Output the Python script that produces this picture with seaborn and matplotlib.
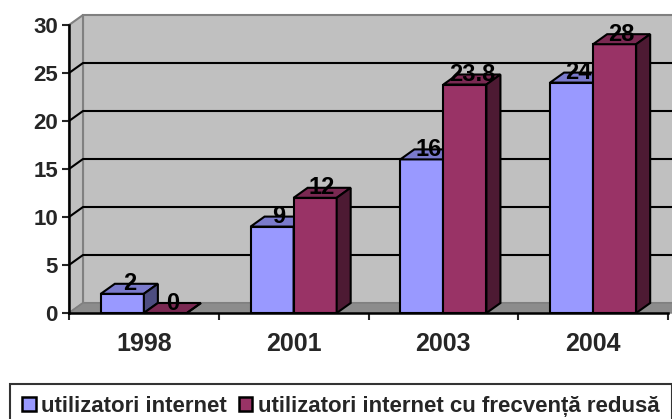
import matplotlib
matplotlib.use("Agg")
import matplotlib.pyplot as plt
from matplotlib.patches import Polygon, Patch
from matplotlib.transforms import IdentityTransform
import seaborn as sns
import pandas as pd

years = ["1998", "2001", "2003", "2004"]
series_names = ["utilizatori internet", "utilizatori internet cu frecvență redusă"]
users = [2, 9, 16, 24]
users_low = [0, 12, 23.8, 28]
yticks = [0, 5, 10, 15, 20, 25, 30]

front_colors = ["#9999FF", "#993366"]
top_colors = ["#7A7ACC", "#7A2952"]
side_colors = ["#4D4D80", "#4D1A33"]

df = pd.DataFrame({
    "an": years * 2,
    "valoare": users + users_low,
    "serie": [series_names[0]] * 4 + [series_names[1]] * 4,
})

sns.set_style("white")
plt.rcParams["font.family"] = ["Liberation Sans", "DejaVu Sans"]
plt.rcParams["font.weight"] = "bold"

DPI = 100
fig = plt.figure(figsize=(6.72, 4.19), dpi=DPI)
ax = fig.add_axes([69 / 672, (419 - 313) / 419, 599 / 672, 288 / 419])

sns.barplot(data=df, x="an", y="valoare", hue="serie", order=years,
            hue_order=series_names, palette=front_colors, width=0.575,
            saturation=1, edgecolor="black", linewidth=1.5, ax=ax,
            legend=False, zorder=2)

ax.set_xlim(-0.5, 3.5)
ax.set_ylim(0, 30)
fig.canvas.draw()

DX, DY = 14, 10  # depth offset in pixels


def P(x, y, back=False):
    px, py = ax.transData.transform((x, y))
    if back:
        return (px + DX, py + DY)
    return (px, py)


def poly(pts, fc, ec, lw, z):
    p = Polygon(pts, closed=True, facecolor=fc, edgecolor=ec, linewidth=lw,
                transform=IdentityTransform(), zorder=z, clip_on=False)
    ax.add_artist(p)
    return p


x0, x1 = -0.5, 3.7
# back wall
poly([P(x0, 0, True), P(x1, 0, True), P(x1, 30, True), P(x0, 30, True)],
     "#C0C0C0", "#808080", 1.5, 0.1)
# left wall
poly([P(x0, 0), P(x0, 0, True), P(x0, 30, True), P(x0, 30)],
     "#C0C0C0", "#808080", 1.5, 0.2)
# floor
poly([P(x0, 0), P(x1, 0), P(x1, 0, True), P(x0, 0, True)],
     "#8C8C8C", "#808080", 1.0, 0.2)
# gridlines
for v in yticks[1:-1]:
    a, b, c = P(x0, v), P(x0, v, True), P(x1, v, True)
    ax.add_artist(plt.Line2D([a[0], b[0], c[0]], [a[1], b[1], c[1]],
                             color="black", lw=1.5, transform=IdentityTransform(),
                             zorder=0.5, clip_on=False))

# 3D faces for bars
for k, cont in enumerate(ax.containers):
    for bar in cont:
        bx = bar.get_x()
        bw = bar.get_width()
        h = bar.get_height()
        z = 2 + k
        bar.set_zorder(z + 0.5)
        poly([P(bx, h), P(bx + bw, h), P(bx + bw, h, True), P(bx, h, True)],
             top_colors[k], "black", 1.5, z + 0.5)
        poly([P(bx + bw, 0), P(bx + bw, 0, True), P(bx + bw, h, True), P(bx + bw, h)],
             side_colors[k], "black", 1.5, z + 0.5)
        ax.annotate(f"{h:g}", xy=(bx + bw / 2, h), xytext=(7, 10),
                    textcoords="offset pixels", ha="center", va="center",
                    fontsize=17, fontweight="bold", color="black", zorder=10,
                    annotation_clip=False)

# axes styling
for s in ["top", "right"]:
    ax.spines[s].set_visible(False)
for s in ["left", "bottom"]:
    ax.spines[s].set_color("black")
    ax.spines[s].set_linewidth(1.8)
    ax.spines[s].set_zorder(6)
ax.patch.set_alpha(0)
ax.set_yticks(yticks)
ax.set_yticklabels([str(v) for v in yticks], fontsize=16, fontweight="bold")
ax.tick_params(axis="y", direction="out", length=5, width=1.5, pad=3, left=True)
ax.set_xticks(range(len(years)))
ax.set_xticklabels(years, fontsize=18, fontweight="bold")
ax.set_xticks([-0.5, 0.5, 1.5, 2.5, 3.5], minor=True)
ax.tick_params(axis="x", which="major", length=0, pad=14)
ax.tick_params(axis="x", which="minor", direction="out", length=5, width=1.5, bottom=True)
ax.set_xlabel("")
ax.set_ylabel("")
ax.grid(False)

handles = [Patch(facecolor=c, edgecolor="black", linewidth=1.8) for c in front_colors]
leg = fig.legend(handles, series_names, loc="upper left",
                 bbox_to_anchor=(10 / 672, 1 - 384 / 419), ncol=2,
                 prop={"size": 16, "weight": "bold"}, frameon=True,
                 fancybox=False, edgecolor="black", handlelength=0.6,
                 handleheight=0.6, handletextpad=0.25, columnspacing=0.55,
                 borderpad=0.55, borderaxespad=0)
leg.get_frame().set_linewidth(1.5)

fig.savefig("out.png", dpi=DPI)
